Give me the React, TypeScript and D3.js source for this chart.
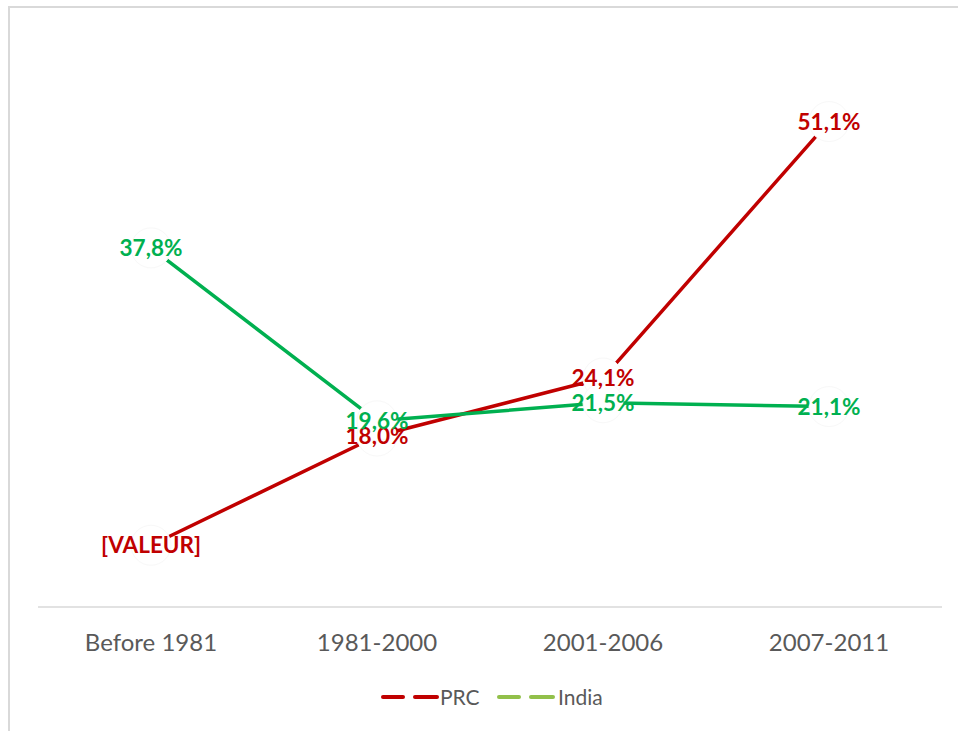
import React from "react";
import * as d3 from "d3";

const categories = ["Before 1981", "1981-2000", "2001-2006", "2007-2011"];
const prcValues = [6.5, 18.0, 24.1, 51.1];
const prcLabels = ["[VALEUR]", "18,0%", "24,1%", "51,1%"];
const indiaValues = [37.8, 19.6, 21.5, 21.1];
const indiaLabels = ["37,8%", "19,6%", "21,5%", "21,1%"];
const seriesNames = ["PRC", "India"];

const W = 958;
const H = 731;
const FONT = "Lato, 'Open Sans', sans-serif";

export default function App() {
  const x = d3.scaleBand<string>().domain(categories).range([38, 942]);
  const y = d3.scaleLinear().domain([0, 60]).range([607, 37]);
  const cx = (c: string) => (x(c) as number) + x.bandwidth() / 2;

  const series = [
    { name: seriesNames[0], values: prcValues, labels: prcLabels, color: "#C00000", legendColor: "#C00000" },
    { name: seriesNames[1], values: indiaValues, labels: indiaLabels, color: "#00B050", legendColor: "#92C04A" },
  ];

  const line = d3
    .line<number>()
    .x((_, i) => cx(categories[i]))
    .y((d) => y(d));

  const legendItems = [
    { x0: 383, textX: 440 },
    { x0: 499, textX: 558 },
  ];

  return (
    <div style={{ position: "absolute", left: 0, top: 0 }}>
      <svg width={W} height={H} style={{ display: "block" }}>
        <rect x={0} y={0} width={W} height={H} fill="#ffffff" />
        <rect x={9} y={7} width={W + 20} height={H + 20} fill="none" stroke="#d9d9d9" strokeWidth={2} />
        <line x1={38} x2={942} y1={y(0)} y2={y(0)} stroke="#d9d9d9" strokeWidth={1.5} />
        {categories.map((c) => (
          <text
            key={c}
            x={cx(c)}
            y={651}
            textAnchor="middle"
            fontFamily={FONT}
            fontSize={24}
            fill="#595959"
          >
            {c}
          </text>
        ))}
        {series.map((s) => (
          <g key={s.name}>
            <path d={line(s.values) || ""} fill="none" stroke={s.color} strokeWidth={3.5} strokeLinejoin="round" />
            {s.values.map((v, i) => (
              <circle key={i} cx={cx(categories[i])} cy={y(v)} r={20} fill="#ffffff" stroke="#f8f8f8" strokeWidth={1} />
            ))}
          </g>
        ))}
        {series.map((s) =>
          s.values.map((v, i) => (
            <text
              key={s.name + i}
              x={cx(categories[i])}
              y={y(v)}
              dy="0.36em"
              textAnchor="middle"
              fontFamily={FONT}
              fontWeight="bold"
              fontSize={22.5}
              fill={s.color}
            >
              {s.labels[i]}
            </text>
          ))
        )}
        {series.map((s, k) => {
          const it = legendItems[k];
          return (
            <g key={"lg" + s.name}>
              <line x1={it.x0} x2={it.x0 + 20} y1={697} y2={697} stroke={s.legendColor} strokeWidth={4} strokeLinecap="round" />
              <line x1={it.x0 + 32} x2={it.x0 + 54} y1={697} y2={697} stroke={s.legendColor} strokeWidth={4} strokeLinecap="round" />
              <text x={it.textX} y={705} fontFamily={FONT} fontSize={21} fill="#595959">
                {s.name}
              </text>
            </g>
          );
        })}
      </svg>
    </div>
  );
}
